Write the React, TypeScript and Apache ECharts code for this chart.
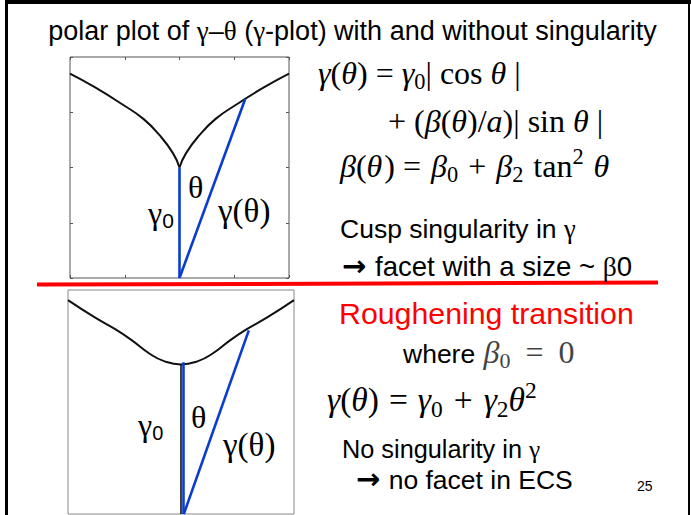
import React, { useEffect, useRef } from 'react';
import * as echarts from 'echarts';

// γ-plot with a cusp (β0 > 0): points x = γ sinθ, y = γ cosθ in box units
const cuspLeftX = [-1.0, -0.77, -0.52, -0.33, -0.18, -0.06, 0];
const cuspLeftY = [1.85, 1.725, 1.57, 1.44, 1.29, 1.13, 1.0];
const cuspRightX = [0, 0.06, 0.18, 0.33, 0.52, 0.77, 1.0];
const cuspRightY = [1.0, 1.13, 1.29, 1.44, 1.57, 1.725, 1.85];

// smooth γ-plot at the roughening transition (β0 = 0)
const smoothX = [-1.0, -0.77, -0.59, -0.44, -0.28, -0.15, 0, 0.15, 0.28, 0.44, 0.59, 0.77, 1.0];
const smoothY = [1.91, 1.76, 1.655, 1.555, 1.433, 1.365, 1.335, 1.365, 1.433, 1.555, 1.655, 1.76, 1.91];

// γ0 and γ(θ) segments drawn from the polar origin
const cuspGamma0X = [0, 0];
const cuspGamma0Y = [0, 1.0];
const cuspRayX = [0, 0.6];
const cuspRayY = [0, 1.62];
const smoothAxisX = [0, 0];
const smoothAxisY = [0, 1.335];
const smoothGamma0X = [0.022, 0.022];
const smoothGamma0Y = [0, 1.355];
const smoothRayX = [0.025, 0.6];
const smoothRayY = [0, 1.64];

// axis box ranges and tick step
const boxX = [-1, 1];
const boxY = [0, 2];
const tickStep = 0.5;

const SANS = 'Liberation Sans';
const SERIF = 'Liberation Serif';
const ARROW = 'DejaVu Sans';
const BLUE = '#0a3ccf';
const RED = '#ff0000';

const pts = (xs: number[], ys: number[]) => xs.map((x, i) => [x, ys[i]]);

type Piece = {
  t: string;
  fam?: string;
  size?: number;
  it?: boolean;
  bold?: boolean;
  dy?: number;
  dx?: number;
  fill?: string;
};

let measureCtx: CanvasRenderingContext2D | null = null;
function measure(text: string, fam: string, size: number, it: boolean, bold: boolean) {
  if (!measureCtx) measureCtx = document.createElement('canvas').getContext('2d');
  const ctx = measureCtx!;
  ctx.font = `${it ? 'italic' : 'normal'} ${bold ? 'bold' : 'normal'} ${size}px "${fam}"`;
  return ctx.measureText(text).width;
}

// lays out a run of differently styled pieces on a common baseline
function run(
  x: number,
  baseline: number,
  base: { fam: string; size: number; fill?: string },
  pieces: Piece[],
  anchor: 'left' | 'center' = 'left'
) {
  const items = pieces.map((p) => {
    const fam = p.fam ?? base.fam;
    const size = p.size ?? base.size;
    const it = !!p.it;
    const bold = !!p.bold;
    const w = measure(p.t, fam, size, it, bold);
    const lead = p.t.length - p.t.replace(/^\s+/, '').length;
    const leadW = lead ? measure(p.t.slice(0, lead), fam, size, it, bold) : 0;
    return { ...p, fam, size, it, bold, w, leadW };
  });
  const total = items.reduce((s, it) => s + it.w + (it.dx ?? 0), 0);
  let cx = anchor === 'center' ? x - total / 2 : x;
  const out: any[] = [];
  for (const it of items) {
    cx += it.dx ?? 0;
    const txt = it.t.trim();
    if (txt) {
      out.push({
        type: 'text',
        x: cx + it.leadW,
        y: baseline + (it.dy ?? 0) - 0.345 * it.size,
        silent: true,
        z: 20,
        style: {
          text: txt,
          fontFamily: it.fam,
          fontSize: it.size,
          fontStyle: it.it ? 'italic' : 'normal',
          fontWeight: it.bold ? 'bold' : 'normal',
          fill: it.fill ?? base.fill ?? '#000',
          align: 'left',
          verticalAlign: 'middle',
          textAlign: 'left',
          textVerticalAlign: 'middle',
        },
      });
    }
    cx += it.w;
  }
  return out;
}

function buildGraphics() {
  const g: any[] = [];
  // slide frame
  g.push({ type: 'rect', silent: true, shape: { x: 5, y: 0, width: 686, height: 4 }, style: { fill: '#000' } });
  g.push({ type: 'rect', silent: true, shape: { x: 5, y: 0, width: 3, height: 515 }, style: { fill: '#000' } });
  g.push({ type: 'rect', silent: true, shape: { x: 688, y: 0, width: 2, height: 515 }, style: { fill: '#000' } });
  // red separator
  g.push({
    type: 'line',
    silent: true,
    shape: { x1: 37, y1: 284.6, x2: 658, y2: 282.6 },
    style: { stroke: RED, lineWidth: 4 },
  });

  // title
  g.push(
    ...run(352.5, 40, { fam: SANS, size: 27 }, [
      { t: 'polar plot of ' },
      { t: 'γ', fam: SERIF },
      { t: '–' },
      { t: 'θ', fam: SERIF },
      { t: ' (' },
      { t: 'γ', fam: SERIF },
      { t: '-plot) with and without singularity' },
    ], 'center')
  );

  // upper formulas
  const FS = 32;
  const sub = { size: FS * 0.7, dy: FS * 0.17 };
  const sup = { size: FS * 0.7, dy: -FS * 0.4 };
  g.push(
    ...run(318, 84, { fam: SERIF, size: FS }, [
      { t: 'γ', it: true },
      { t: '(' },
      { t: 'θ', it: true },
      { t: ') = ' },
      { t: 'γ', it: true },
      { t: '0', ...sub },
      { t: '| cos ' },
      { t: 'θ', it: true },
      { t: ' |' },
    ])
  );
  g.push(
    ...run(388, 132, { fam: SERIF, size: FS }, [
      { t: '+ (' },
      { t: 'β', it: true },
      { t: '(' },
      { t: 'θ', it: true },
      { t: ')/' },
      { t: 'a', it: true },
      { t: ')| sin ' },
      { t: 'θ', it: true },
      { t: ' |' },
    ])
  );
  g.push(
    ...run(340, 177, { fam: SERIF, size: FS }, [
      { t: 'β', it: true },
      { t: '(' },
      { t: 'θ', it: true },
      { t: ') = ', dx: 2 },
      { t: 'β', it: true, dx: 2 },
      { t: '0', ...sub },
      { t: ' + ', dx: 2 },
      { t: 'β', it: true, dx: 2 },
      { t: '2', ...sub },
      { t: ' tan', dx: 2 },
      { t: '2', ...sup },
      { t: ' ' },
      { t: 'θ', it: true, dx: 2 },
    ])
  );

  g.push(...run(340, 238, { fam: SANS, size: 26.5 }, [{ t: 'Cusp singularity in ' }, { t: 'γ', fam: SERIF }]));
  g.push(
    ...run(342, 276, { fam: SANS, size: 27.6 }, [
      { t: '→', fam: ARROW, size: 29, bold: true },
      { t: ' facet with a size ~ ', dx: 1 },
      { t: 'β', fam: SERIF },
      { t: '0' },
    ])
  );

  // lower block
  g.push(...run(339, 324, { fam: SANS, size: 30.3, fill: RED }, [{ t: 'Roughening transition' }]));
  g.push(
    ...run(403, 363, { fam: SANS, size: 26.5 }, [
      { t: 'where ' },
      { t: 'β', fam: SERIF, it: true, size: 32, fill: '#444', dx: 1 },
      { t: '0', fam: SERIF, size: 22, dy: 5, fill: '#444' },
      { t: ' = ', fam: SERIF, size: 32, fill: '#444', dx: 7 },
      { t: '0', fam: SERIF, size: 32, fill: '#444', dx: 7 },
    ])
  );
  const FB = 33.5;
  const subB = { size: FB * 0.7, dy: FB * 0.17 };
  g.push(
    ...run(327, 411, { fam: SERIF, size: FB }, [
      { t: 'γ', it: true },
      { t: '(' },
      { t: 'θ', it: true },
      { t: ')' },
      { t: '=', dx: 10 },
      { t: 'γ', it: true, dx: 10 },
      { t: '0', ...subB },
      { t: '+', dx: 11 },
      { t: 'γ', it: true, dx: 11 },
      { t: '2', ...subB },
      { t: 'θ', it: true },
      { t: '2', size: FB * 0.7, dy: -FB * 0.4 },
    ])
  );
  g.push(...run(342, 458, { fam: SANS, size: 25.3 }, [{ t: 'No singularity in ' }, { t: 'γ', fam: SERIF }]));
  g.push(
    ...run(356, 489, { fam: SANS, size: 26.5 }, [
      { t: '→', fam: ARROW, size: 29, bold: true },
      { t: ' no facet in ECS', dx: 1 },
    ])
  );
  g.push(...run(637, 491, { fam: SANS, size: 14 }, [{ t: '25' }]));

  // labels inside the upper box
  g.push(...run(188, 198, { fam: SERIF, size: 32 }, [{ t: 'θ' }]));
  g.push(...run(148, 224, { fam: SERIF, size: 32 }, [{ t: 'γ' }, { t: '0', fam: SANS, size: 21, dy: 4 }]));
  g.push(...run(218, 222, { fam: SERIF, size: 33 }, [{ t: 'γ(θ)' }]));
  // labels inside the lower box
  g.push(...run(191, 428, { fam: SERIF, size: 32 }, [{ t: 'θ' }]));
  g.push(...run(138, 436, { fam: SERIF, size: 32 }, [{ t: 'γ' }, { t: '0', fam: SANS, size: 20, dy: 4 }]));
  g.push(...run(223, 456, { fam: SERIF, size: 33 }, [{ t: 'γ(θ)' }]));
  return g;
}

function lineSeries(data: number[][], idx: number, color: string, width: number, smooth = false) {
  return {
    type: 'line',
    xAxisIndex: idx,
    yAxisIndex: idx,
    data,
    smooth: smooth ? 0.5 : false,
    showSymbol: false,
    symbol: 'none',
    clip: false,
    silent: true,
    lineStyle: { color, width },
    itemStyle: { color },
  };
}

function boxAxis(gridIndex: number, position: string, range: number[], color: string) {
  return {
    type: 'value',
    gridIndex,
    position,
    min: range[0],
    max: range[1],
    interval: tickStep,
    axisLine: { show: false, onZero: false },
    axisTick: { show: true, inside: true, length: 3, lineStyle: { color, width: 1 } },
    axisLabel: { show: false },
    splitLine: { show: false },
  };
}

export default function App() {
  const ref = useRef<HTMLDivElement>(null);
  useEffect(() => {
    if (!ref.current) return;
    const chart = echarts.init(ref.current, undefined, { renderer: 'svg' });
    const option: any = {
      animation: false,
      backgroundColor: '#ffffff',
      grid: [
        { left: 70, top: 57, width: 219, height: 221, show: true, borderColor: '#555', borderWidth: 1, backgroundColor: 'transparent' },
        { left: 68, top: 290, width: 226, height: 224, show: true, borderColor: '#888', borderWidth: 1, backgroundColor: 'transparent' },
      ],
      xAxis: [
        boxAxis(0, 'bottom', boxX, '#555'),
        boxAxis(0, 'top', boxX, '#555'),
        { type: 'value', gridIndex: 1, min: boxX[0], max: boxX[1], show: false, axisLine: { onZero: false } },
      ],
      yAxis: [
        boxAxis(0, 'left', boxY, '#555'),
        boxAxis(0, 'right', boxY, '#555'),
        { type: 'value', gridIndex: 1, min: boxY[0], max: boxY[1], show: false, axisLine: { onZero: false } },
      ],
      series: [
        lineSeries(pts(cuspLeftX, cuspLeftY), 0, '#111', 2, true),
        lineSeries(pts(cuspRightX, cuspRightY), 0, '#111', 2, true),
        lineSeries(pts(cuspGamma0X, cuspGamma0Y), 0, BLUE, 2.6),
        lineSeries(pts(cuspRayX, cuspRayY), 0, BLUE, 2.6),
        lineSeries(pts(smoothX, smoothY), 2, '#111', 2, true),
        lineSeries(pts(smoothAxisX, smoothAxisY), 2, '#111', 1.6),
        lineSeries(pts(smoothGamma0X, smoothGamma0Y), 2, BLUE, 2.6),
        lineSeries(pts(smoothRayX, smoothRayY), 2, BLUE, 2.6),
      ],
      graphic: { elements: buildGraphics() },
    };
    chart.setOption(option);
    return () => chart.dispose();
  }, []);
  return (
    <div
      ref={ref}
      style={{ position: 'fixed', left: 0, top: 0, width: 691, height: 515, background: '#fff' }}
    />
  );
}
